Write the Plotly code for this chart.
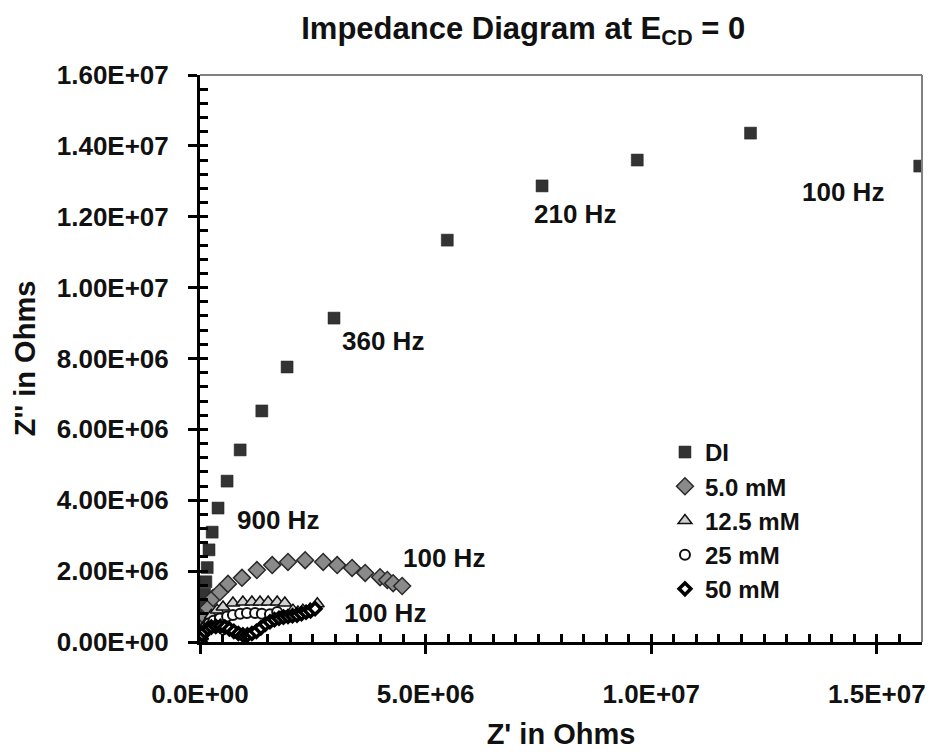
import plotly.graph_objects as go

# ---- data (Ohms) ----
di_x = [0.02e6, 0.04e6, 0.06e6, 0.08e6, 0.10e6, 0.13e6, 0.16e6, 0.20e6, 0.27e6, 0.40e6,
        0.60e6, 0.89e6, 1.37e6, 1.93e6, 2.97e6, 5.48e6, 7.58e6, 9.69e6, 12.2e6, 15.95e6]
di_y = [0.10e6, 0.40e6, 0.70e6, 1.00e6, 1.35e6, 1.70e6, 2.10e6, 2.60e6, 3.10e6, 3.78e6,
        4.54e6, 5.42e6, 6.52e6, 7.76e6, 9.14e6, 11.34e6, 12.87e6, 13.60e6, 14.36e6, 13.43e6]

mm5_x = [0.02e6, 0.05e6, 0.10e6, 0.18e6, 0.29e6, 0.44e6, 0.62e6, 0.93e6, 1.26e6, 1.60e6,
         1.95e6, 2.33e6, 2.73e6, 3.04e6, 3.37e6, 3.66e6, 3.99e6, 4.15e6, 4.28e6, 4.48e6]
mm5_y = [0.20e6, 0.45e6, 0.72e6, 0.96e6, 1.24e6, 1.41e6, 1.64e6, 1.81e6, 2.03e6, 2.17e6,
         2.26e6, 2.31e6, 2.26e6, 2.17e6, 2.09e6, 1.95e6, 1.83e6, 1.75e6, 1.66e6, 1.58e6]

mm12_x = [0.03e6, 0.08e6, 0.15e6, 0.25e6, 0.38e6, 0.51e6, 0.73e6, 0.95e6, 1.15e6, 1.33e6,
          1.51e6, 1.71e6, 1.88e6, 2.06e6, 2.17e6, 2.28e6, 2.44e6, 2.60e6]
mm12_y = [0.15e6, 0.35e6, 0.55e6, 0.75e6, 0.90e6, 0.99e6, 1.10e6, 1.13e6, 1.13e6, 1.13e6,
          1.13e6, 1.13e6, 1.10e6, 0.90e6, 0.85e6, 0.90e6, 0.93e6, 1.08e6]

mm25_x = [0.01e6, 0.04e6, 0.08e6, 0.13e6, 0.20e6, 0.30e6, 0.44e6, 0.60e6, 0.73e6, 0.89e6,
          1.04e6, 1.22e6, 1.37e6, 1.55e6, 1.71e6, 1.85e6, 2.00e6, 2.15e6, 2.30e6, 2.45e6]
mm25_y = [0.05e6, 0.18e6, 0.30e6, 0.42e6, 0.52e6, 0.60e6, 0.66e6, 0.72e6, 0.76e6, 0.80e6,
          0.82e6, 0.82e6, 0.80e6, 0.78e6, 0.85e6, 0.74e6, 0.72e6, 0.76e6, 0.82e6, 0.88e6]

mm50_x = [0.00e6, 0.02e6, 0.05e6, 0.10e6, 0.17e6, 0.25e6, 0.35e6, 0.45e6, 0.55e6, 0.65e6,
          0.75e6, 0.85e6, 0.95e6, 1.05e6, 1.15e6, 1.25e6, 1.35e6, 1.45e6, 1.55e6, 1.65e6,
          1.75e6, 1.85e6, 1.95e6, 2.05e6, 2.15e6, 2.25e6, 2.35e6, 2.45e6, 2.55e6]
mm50_y = [0.00e6, 0.10e6, 0.20e6, 0.30e6, 0.38e6, 0.42e6, 0.44e6, 0.44e6, 0.42e6, 0.37e6,
          0.30e6, 0.24e6, 0.20e6, 0.20e6, 0.24e6, 0.30e6, 0.40e6, 0.50e6, 0.57e6, 0.63e6,
          0.67e6, 0.70e6, 0.72e6, 0.74e6, 0.76e6, 0.80e6, 0.84e6, 0.88e6, 0.94e6]

series_names = ["DI", "5.0 mM", "12.5 mM", "25 mM", "50 mM"]

x_tickvals = [0, 5e6, 1e7, 1.5e7]
x_ticktext = ["0.0E+00", "5.0E+06", "1.0E+07", "1.5E+07"]
y_tickvals = [0, 2e6, 4e6, 6e6, 8e6, 1e7, 1.2e7, 1.4e7, 1.6e7]
y_ticktext = ["0.00E+00", "2.00E+06", "4.00E+06", "6.00E+06", "8.00E+06",
              "1.00E+07", "1.20E+07", "1.40E+07", "1.60E+07"]

freq_labels = ["100 Hz", "210 Hz", "360 Hz", "900 Hz", "100 Hz", "100 Hz"]
freq_x = [14.25e6, 8.31e6, 4.06e6, 1.73e6, 5.41e6, 4.10e6]
freq_y = [12.70e6, 12.08e6, 8.49e6, 3.44e6, 2.37e6, 0.82e6]

FONT = "Liberation Sans, Arial, sans-serif"
INK = "#111111"

fig = go.Figure()
fig.add_trace(go.Scatter(x=di_x, y=di_y, mode="markers", name=series_names[0],
                         marker=dict(symbol="square", size=12, color="#333333",
                                     line=dict(color="#222222", width=0.5))))
fig.add_trace(go.Scatter(x=mm5_x, y=mm5_y, mode="markers", name=series_names[1],
                         marker=dict(symbol="diamond", size=13, color="#8a8a8a",
                                     line=dict(color="#2a2a2a", width=1.5))))
fig.add_trace(go.Scatter(x=mm12_x, y=mm12_y, mode="markers", name=series_names[2],
                         marker=dict(symbol="triangle-up", size=12, color="#d0d0d0",
                                     line=dict(color=INK, width=1.5))))
fig.add_trace(go.Scatter(x=mm25_x, y=mm25_y, mode="markers", name=series_names[3],
                         marker=dict(symbol="circle", size=10, color="#ffffff",
                                     line=dict(color=INK, width=2))))
fig.add_trace(go.Scatter(x=mm50_x, y=mm50_y, mode="markers", name=series_names[4],
                         marker=dict(symbol="diamond", size=9, color="#ffffff",
                                     line=dict(color="#000000", width=3.5))))
# empty trace so the overlay (minor-tick) axes are created
fig.add_trace(go.Scatter(x=[], y=[], xaxis="x2", yaxis="y2", showlegend=False,
                         hoverinfo="skip"))

for t, ax, ay in zip(freq_labels, freq_x, freq_y):
    fig.add_annotation(x=ax, y=ay, text="<b>" + t + "</b>", showarrow=False,
                       font=dict(family=FONT, size=26, color=INK))

axis_common = dict(showgrid=False, zeroline=False, showline=True, linecolor="black",
                   linewidth=3, ticks="outside", ticklen=9, tickwidth=3, tickcolor="black",
                   tickfont=dict(family=FONT, size=26, color=INK, weight="bold"),
                   tickmode="array", automargin=False)

fig.update_layout(
    xaxis=dict(range=[0, 1.6e7], tickvals=x_tickvals, ticktext=x_ticktext,
               ticklabelstandoff=18,
               title=dict(text="<b>Z' in Ohms</b>", font=dict(family=FONT, size=29, color=INK),
                          standoff=16),
               **axis_common),
    yaxis=dict(range=[0, 1.6e7], tickvals=y_tickvals, ticktext=y_ticktext,
               ticklabelstandoff=14,
               title=dict(text="<b>Z'' in Ohms</b>", font=dict(family=FONT, size=29, color=INK),
                          standoff=13),
               **axis_common),
    # overlay axes drawing the minor ticks inside the plot
    xaxis2=dict(overlaying="x", anchor="y", side="bottom", range=[0, 1.6e7],
                tickmode="linear", tick0=0, dtick=5e5, ticks="inside", ticklen=8,
                tickwidth=3, tickcolor="black", showticklabels=False, showline=False,
                showgrid=False, zeroline=False, automargin=False),
    yaxis2=dict(overlaying="y", anchor="x", side="left", range=[0, 1.6e7],
                tickmode="linear", tick0=0, dtick=4e5, ticks="inside", ticklen=8,
                tickwidth=3, tickcolor="black", showticklabels=False, showline=False,
                showgrid=False, zeroline=False, automargin=False),
)

# thin grey border on top and right
fig.add_shape(type="line", xref="paper", yref="paper", x0=0, x1=1, y0=1, y1=1,
              line=dict(color="#808080", width=2))
fig.add_shape(type="line", xref="paper", yref="paper", x0=1, x1=1, y0=0, y1=1,
              line=dict(color="#808080", width=2))

fig.update_layout(
    width=931, height=753,
    margin=dict(l=200, r=9, t=75, b=111, autoexpand=False),
    paper_bgcolor="white", plot_bgcolor="white",
    title=dict(text="<b>Impedance Diagram at E<sub>CD</sub> = 0</b>", x=0.562, xanchor="center",
               y=0.963, yanchor="middle",
               font=dict(family=FONT, size=31, color=INK)),
    legend=dict(x=0.644, y=0.374, xanchor="left", yanchor="top",
                bgcolor="rgba(0,0,0,0)", borderwidth=0, itemwidth=30,
                font=dict(family=FONT, size=24, color=INK, weight="bold"),
                tracegroupgap=0),
    showlegend=True,
)

fig.write_html("out.html")
